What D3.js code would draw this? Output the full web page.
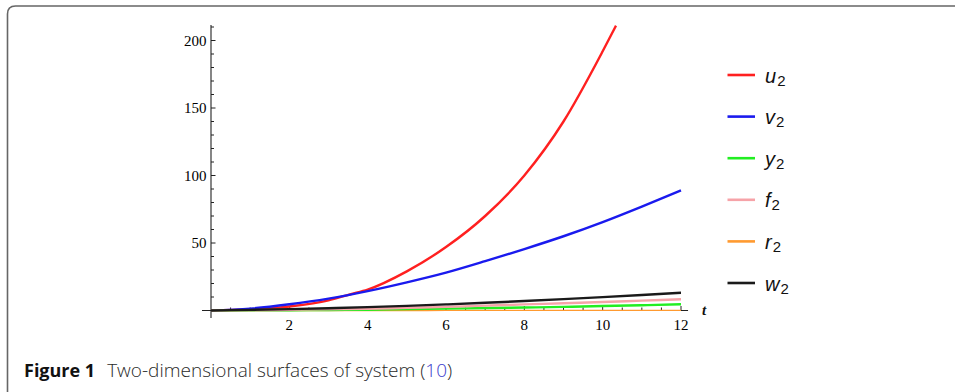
<!DOCTYPE html>
<html><head><meta charset="utf-8">
<script src="https://cdn.jsdelivr.net/npm/d3@7"></script>
<style>body{margin:0;background:#fff}svg{display:block}</style>
</head><body>
<svg id="c" width="955" height="392"></svg>
<script>
// ---- data ----
const tU = [0, 1, 2, 3, 3.55, 4, 5, 6, 7, 8, 9, 10, 10.34];
const u2 = [0, 0.7, 3, 7.5, 12, 15.5, 29, 47, 70, 100, 140, 192, 211];
const tAll = [0, 1, 2, 3, 4, 5, 6, 7, 8, 9, 10, 11, 12];
const v2 = [0, 1.4, 4.6, 8.8, 14.3, 20.8, 28, 36.5, 45.5, 55, 65.5, 77, 89];
const y2 = [0, 0.05, 0.2, 0.4, 0.6, 1.0, 1.4, 1.8, 2.2, 2.7, 3.3, 3.9, 4.6];
const f2 = [0, 0.2, 0.5, 0.9, 1.3, 2.0, 2.7, 3.6, 4.5, 5.4, 6.3, 7.3, 8.3];
const r2 = [0, 0.01, 0.02, 0.03, 0.04, 0.05, 0.06, 0.07, 0.08, 0.09, 0.1, 0.11, 0.12];
const w2 = [0, 0.5, 1.0, 1.7, 2.5, 3.4, 4.5, 5.7, 7.0, 8.4, 9.9, 11.5, 13.2];
const seriesNames = ["u", "v", "y", "f", "r", "w"];
const seriesColors = ["#ff2020", "#1a1aee", "#22ee22", "#f6a3a8", "#ff9a30", "#1a1a1a"];
const xTicks = [2, 4, 6, 8, 10, 12];
const yTicks = [50, 100, 150, 200];
const captionBold = "Figure 1";
const captionText = "Two-dimensional surfaces of system (";
const captionRef = "10";
const captionEnd = ")";

const svg = d3.select("#c");

// frame
svg.append("path")
  .attr("d", "M7.5,392 L7.5,14 Q7.5,6 15.5,6 L955,6")
  .attr("fill", "none").attr("stroke", "#666").attr("stroke-width", 1.6);

const x = d3.scaleLinear().domain([0, 12]).range([211, 681]);
const y = d3.scaleLinear().domain([0, 200]).range([310.5, 40.5]);

// axes lines
svg.append("line").attr("x1", x(-0.23)).attr("x2", x(12.18)).attr("y1", y(0)).attr("y2", y(0))
  .attr("stroke", "#222").attr("stroke-width", 1.2);
svg.append("line").attr("x1", x(0)).attr("x2", x(0)).attr("y1", y(-5.5)).attr("y2", y(211.5))
  .attr("stroke", "#222").attr("stroke-width", 1.1);

// x ticks
const xMinor = d3.range(0.5, 12.01, 0.5);
svg.append("g").selectAll("line").data(xMinor).join("line")
  .attr("x1", d => x(d)).attr("x2", d => x(d))
  .attr("y1", y(0)).attr("y2", d => y(0) - (xTicks.includes(d) ? 4.5 : 3))
  .attr("stroke", "#222").attr("stroke-width", 1);
svg.append("g").selectAll("text").data(xTicks).join("text")
  .attr("x", d => x(d)).attr("y", 330)
  .attr("text-anchor", "middle")
  .attr("font-family", "Liberation Serif").attr("font-size", 15).attr("fill", "#000")
  .text(d => d);
// y ticks
const yMinor = d3.range(10, 210.1, 10);
svg.append("g").selectAll("line").data(yMinor).join("line")
  .attr("x1", x(0)).attr("x2", d => x(0) + (yTicks.includes(d) ? 4.5 : 3))
  .attr("y1", d => y(d)).attr("y2", d => y(d))
  .attr("stroke", "#222").attr("stroke-width", 1);
svg.append("g").selectAll("text").data(yTicks).join("text")
  .attr("x", 206.5).attr("y", d => y(d)).attr("dy", "0.35em")
  .attr("text-anchor", "end")
  .attr("font-family", "Liberation Serif").attr("font-size", 15).attr("fill", "#000")
  .text(d => d);
// axis label t
svg.append("text").attr("x", 704).attr("y", 315).attr("text-anchor", "middle")
  .attr("font-family", "Liberation Serif").attr("font-style", "italic").attr("font-weight", "bold")
  .attr("font-size", 15).attr("fill", "#111").text("t");

// series (r2 drawn first so it stays beneath the others)
const series = [
  {t: tU, v: u2}, {t: tAll, v: v2}, {t: tAll, v: y2},
  {t: tAll, v: f2}, {t: tAll, v: r2}, {t: tAll, v: w2}
];
const order = [4, 0, 1, 2, 3, 5];
const line = d3.line().x(d => x(d[0])).y(d => y(d[1])).curve(d3.curveMonotoneX);
svg.append("defs").append("clipPath").attr("id", "clip")
  .append("rect").attr("x", x(0) - 5).attr("y", y(211.5)).attr("width", 500).attr("height", 300);
const g = svg.append("g").attr("clip-path", "url(#clip)");
order.forEach(i => {
  const s = series[i];
  g.append("path").datum(s.t.map((t, j) => [t, s.v[j]]))
    .attr("d", line).attr("fill", "none")
    .attr("stroke", seriesColors[i]).attr("stroke-width", i === 4 ? 1.4 : 2.4);
});

// legend
const leg = svg.append("g");
seriesNames.forEach((n, i) => {
  const ly = 75 + i * 41.6;
  leg.append("line").attr("x1", 727.5).attr("x2", 755).attr("y1", ly).attr("y2", ly)
    .attr("stroke", seriesColors[i]).attr("stroke-width", 2.6);
  const t = leg.append("text").attr("x", 765).attr("y", ly + 7.5)
    .attr("font-family", "Liberation Sans").attr("font-size", 20).attr("fill", "#111");
  t.append("tspan").attr("font-style", "italic").text(n);
  t.append("tspan").attr("font-size", 15).attr("dy", 3).attr("dx", 1).text("2");
});

// caption
const cap = svg.append("text").attr("x", 24).attr("y", 377)
  .attr("font-family", "Open Sans").attr("font-size", 19).attr("fill", "#2a2a2a");
cap.append("tspan").attr("font-weight", "bold").attr("font-size", 18).attr("fill", "#111").text(captionBold);
cap.append("tspan").attr("dx", 12).attr("font-weight", 300).text(captionText);
cap.append("tspan").attr("fill", "#3d3dcc").attr("font-weight", 300).text(captionRef);
cap.append("tspan").attr("font-weight", 300).text(captionEnd);
</script>
</body></html>
